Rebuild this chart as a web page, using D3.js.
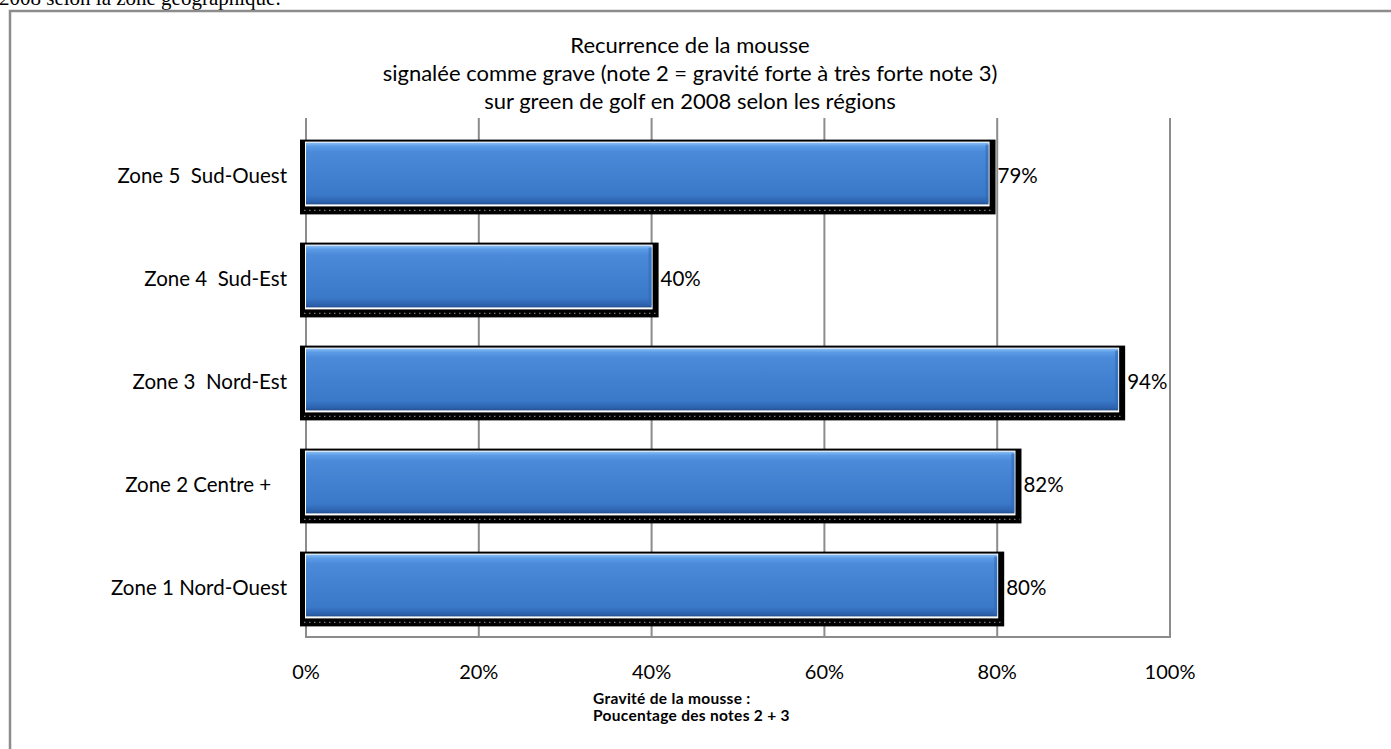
<!DOCTYPE html>
<html><head><meta charset="utf-8">
<script src="https://cdn.jsdelivr.net/npm/d3@7"></script>
<style>
html,body{margin:0;padding:0;background:#fff;overflow:hidden}
svg{display:block}
</style></head>
<body>
<svg id="c" width="1391" height="749"></svg>
<script>
const categories = ["Zone 5  Sud-Ouest","Zone 4  Sud-Est","Zone 3  Nord-Est","Zone 2 Centre +   ","Zone 1 Nord-Ouest"];
const values = [0.79, 0.40, 0.94, 0.82, 0.80];
const valueLabels = ["79%","40%","94%","82%","80%"];
const ticks = [0, 0.2, 0.4, 0.6, 0.8, 1.0];
const tickLabels = ["0%","20%","40%","60%","80%","100%"];
const titleLines = ["Recurrence de la mousse","signalée comme grave (note 2 = gravité forte à très forte note 3)","sur green de golf en 2008 selon les régions"];
const axisTitle = ["Gravité de la mousse :","Poucentage des notes 2 + 3"];

const svg = d3.select("#c");
const font = "Lato, 'Open Sans', sans-serif";

// header text from document
svg.append("text").attr("x",-1).attr("y",5).attr("font-family","'Liberation Serif', serif")
  .attr("font-size",21).attr("fill","#000").text("2008 selon la zone géographique.");

// frame
svg.append("rect").attr("x",10).attr("y",11).attr("width",1400).attr("height",760)
  .attr("fill","none").attr("stroke","#8c8c8c").attr("stroke-width",2.5);

const L=306, R=1170, T=122, B=637;
const x = d3.scaleLinear().domain([0,1]).range([L,R]);
const y = d3.scaleBand().domain(categories).range([T,B]).paddingInner(0.4).paddingOuter(0.2);

const defs = svg.append("defs");
const g = defs.append("linearGradient").attr("id","blue").attr("x1",0).attr("y1",0).attr("x2",0).attr("y2",1);
[[0,"#8cc0f4"],[0.06,"#5b9be6"],[0.15,"#4a8ad9"],[0.85,"#3a78c8"],[0.96,"#2c62ad"],[1,"#244f8f"]]
  .forEach(([o,c])=>g.append("stop").attr("offset",o).attr("stop-color",c));

// gridlines
svg.append("g").selectAll("line").data(ticks.slice(1)).join("line")
  .attr("x1",d=>x(d)).attr("x2",d=>x(d)).attr("y1",118).attr("y2",B)
  .attr("stroke","#8c8c8c").attr("stroke-width",2);
// axis lines
svg.append("line").attr("x1",L).attr("x2",L).attr("y1",118).attr("y2",B).attr("stroke","#8c8c8c").attr("stroke-width",2);
svg.append("line").attr("x1",L-1).attr("x2",R+1).attr("y1",B).attr("y2",B).attr("stroke","#8c8c8c").attr("stroke-width",2);

const data = categories.map((c,i)=>({c, v:values[i], lab:valueLabels[i]}));
const bars = svg.append("g").selectAll("g").data(data).join("g");
// shadow
bars.append("rect").attr("x",L-6).attr("y",d=>y(d.c)-3)
  .attr("width",d=>x(d.v)-L+13).attr("height",y.bandwidth()+13).attr("fill","#000");
bars.append("line").attr("x1",L-2).attr("x2",d=>x(d.v)+5)
  .attr("y1",d=>y(d.c)+y.bandwidth()+6).attr("y2",d=>y(d.c)+y.bandwidth()+6)
  .attr("stroke","#777").attr("stroke-width",1.2).attr("stroke-dasharray","1.5,3.5");
// white outline
bars.append("rect").attr("x",L-1).attr("y",d=>y(d.c)-1)
  .attr("width",d=>x(d.v)-L+2).attr("height",y.bandwidth()+3).attr("fill","#fff");
// blue bar
bars.append("rect").attr("x",L).attr("y",d=>y(d.c))
  .attr("width",d=>x(d.v)-L).attr("height",y.bandwidth()).attr("fill","url(#blue)");
// right bevel
bars.append("rect").attr("x",d=>x(d.v)-3).attr("y",d=>y(d.c)+2)
  .attr("width",3).attr("height",y.bandwidth()-4).attr("fill","#2f69b5").attr("opacity",0.6);
// value labels
bars.append("text").attr("x",d=>x(d.v)+9).attr("y",d=>y(d.c)+y.bandwidth()/2+4)
  .attr("dominant-baseline","middle").attr("font-family",font).attr("font-size",20.5).attr("fill","#000")
  .text(d=>d.lab);

// category labels
svg.append("g").selectAll("text").data(categories).join("text")
  .attr("x",287).attr("y",d=>y(d)+y.bandwidth()/2+4).attr("text-anchor","end")
  .attr("dominant-baseline","middle").attr("font-family",font).attr("font-size",20.5)
  .attr("xml:space","preserve").style("white-space","pre").text(d=>d);

// tick labels
svg.append("g").selectAll("text").data(ticks).join("text")
  .attr("x",d=>x(d)).attr("y",674).attr("text-anchor","middle").attr("dominant-baseline","middle")
  .attr("font-family",font).attr("font-size",20).text((d,i)=>tickLabels[i]);

// title
svg.append("g").selectAll("text").data(titleLines).join("text")
  .attr("x",690).attr("y",(d,i)=>47+i*28).attr("text-anchor","middle").attr("dominant-baseline","middle")
  .attr("font-family",font).attr("font-size",22).text(d=>d);

// axis title
svg.append("g").selectAll("text").data(axisTitle).join("text")
  .attr("x",593).attr("y",(d,i)=>700+i*17).attr("dominant-baseline","middle")
  .attr("font-family",font).attr("font-size",15.5).attr("font-weight","bold")
  .attr("letter-spacing",0.3).text(d=>d);
</script>
</body></html>
